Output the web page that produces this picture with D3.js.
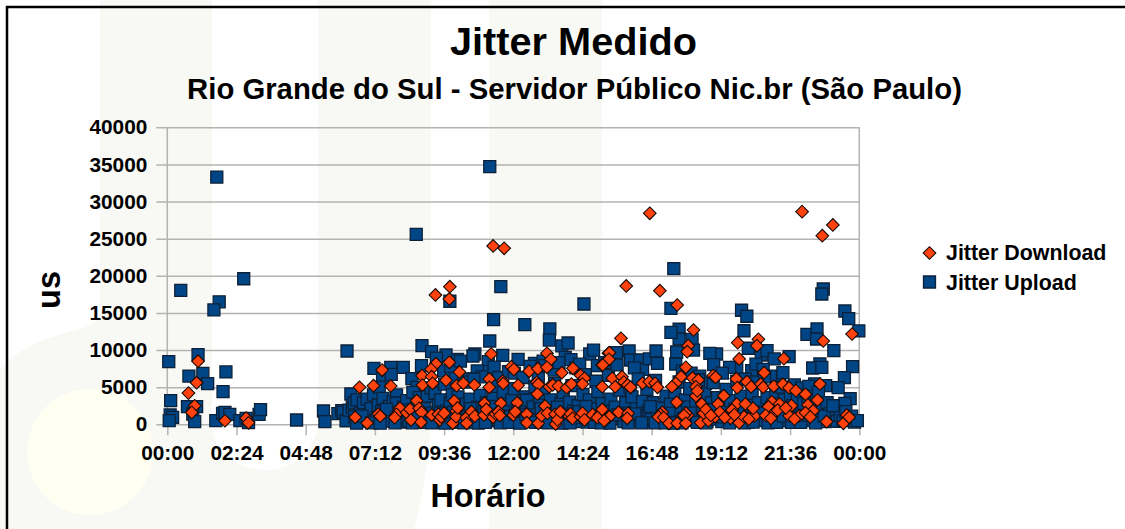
<!DOCTYPE html>
<html>
<head>
<meta charset="utf-8">
<script src="https://cdnjs.cloudflare.com/ajax/libs/d3/7.8.5/d3.min.js"></script>
<style>
  html, body { margin: 0; padding: 0; background: #fff; }
  svg { display: block; }
  text { font-family: "Liberation Sans", Arial, sans-serif; font-weight: bold; fill: #000; }
  .axis path { display: none; }
  .axis line { stroke: #b3b3b3; stroke-width: 1.5; }
  .axis text { font-size: 20.8px; }
</style>
</head>
<body>
<svg id="chart" width="1125" height="529"></svg>
<script>
var chartTitle = "Jitter Medido",
    chartSubtitle = "Rio Grande do Sul - Servidor Público Nic.br (São Paulo)",
    xTitle = "Horário",
    yTitle = "us";

var yTicks = [0, 5000, 10000, 15000, 20000, 25000, 30000, 35000, 40000];
var xTicks = [0, 144, 288, 432, 576, 720, 864, 1008, 1152, 1296, 1440];
var xTickLabels = ["00:00", "02:24", "04:48", "07:12", "09:36", "12:00", "14:24", "16:48", "19:12", "21:36", "00:00"];

// [minutes since midnight, jitter in us]
var jitterUpload = [
  [3,8430],[28,18050],[103,33300],[159,19600],[108,16500],[97,15400],[64,9380],[74,6870],[45,6500],[84,5470],
  [116,4400],[122,7050],[7,3180],[42,2370],[61,2370],[53,1390],[6,1250],[11,940],[4,485],[57,350],
  [101,485],[115,1480],[120,1600],[130,1350],[151,485],[164,810],[169,215],[191,1350],[194,1970],[269,580],
  [325,1790],[328,350],[355,1430],[363,1830],
  // 06:00 - 12:00, upper part
  [374,9870],[430,7540],[465,7680],[491,7680],[448,6200],[466,6730],[509,6140],[519,4980],[530,10590],[550,9780],
  [529,7890],[580,9330],[604,8750],[595,6200],[640,9470],[636,9200],[668,8430],[667,7090],[671,11220],[679,14090],
  [694,18530],[518,25570],[671,34700],[588,16570],[698,9290],[730,8750],[744,13420],[764,8210],[782,8500],[796,12840],
  [795,11350],[867,16200],[821,10550],[834,10950],[879,9470],[887,10000],[828,9020],[560,8900],[575,7200],[590,7800],
  [610,8500],[625,6100],[645,7200],[655,6400],[680,7700],[690,6300],[710,7100],[722,6900],[740,6300],[755,7800],
  [772,6200],[786,7900],[805,7300],[815,8300],[840,8700],[850,7600],[858,8100],[870,6700],[895,7900],[910,8300],
  // low and middle mass, 06:00 - 16:00
  [366,1650],[372,480],[378,1900],[382,4080],[385,2300],[389,2870],[390,1000],[395,3300],[398,420],[402,1500],
  [408,2910],[411,600],[416,3400],[420,1250],[424,2100],[429,3950],[431,320],[436,900],[439,2600],[441,5000],
  [446,1700],[449,3500],[453,500],[458,1200],[462,2400],[465,420],[470,3100],[477,3950],[477,2870],[480,800],
  [484,1650],[488,300],[491,2300],[495,1000],[498,3180],[503,420],[507,1900],[511,4300],[515,750],[519,2750],
  [524,3600],[527,280],[532,1300],[536,2100],[541,3800],[544,640],[549,4900],[553,1550],[557,4180],[560,250],
  [564,2600],[569,3300],[572,900],[577,5400],[581,1800],[585,420],[589,2900],[593,4000],[597,700],[601,2200],
  [605,3700],[609,380],[613,1500],[618,5700],[622,2700],[626,600],[630,3400],[634,1200],[638,6100],[642,300],
  [646,2300],[651,3900],[655,800],[659,1700],[664,2900],[669,450],[673,1100],[678,3500],[682,5100],[686,650],
  [690,2200],[695,1300],[699,4300],[704,350],[708,2700],[713,1000],[717,3300],[722,4800],[726,500],[730,1800],
  [735,2500],[739,750],[744,3700],[748,3270],[752,400],[757,1400],[761,2300],[765,5100],[770,600],[775,2900],
  [779,1200],[783,4200],[788,300],[792,2000],[797,3300],[801,900],[806,5500],[810,1600],[815,450],[819,2700],
  [824,4300],[828,1100],[833,600],[837,3000],[842,5200],[846,1800],[851,350],[855,2500],[860,900],[865,4000],
  [869,1500],[874,300],[878,3300],[883,700],[887,2100],[892,5800],[896,4400],[900,1000],[905,2800],[909,420],
  [914,1700],[918,6600],[923,3400],[927,750],[932,2300],[936,8000],[941,4600],[945,1100],[950,350],[954,2900],
  // 15:30 - 00:00, upper part
  [961,9870],[964,8660],[935,9640],[984,8660],[989,7410],[972,7600],[1003,8800],[1017,9870],[1020,8210],[1054,20960],
  [1048,15620],[1065,12800],[1065,11490],[1048,12390],[1092,11450],[1060,9740],[1058,8120],[1095,10000],[1143,9470],[1129,9560],
  [1137,8030],[1195,15360],[1206,14550],[1200,12600],[1209,10240],[1216,7220],[1185,7680],[1170,7680],[1236,9330],[1248,9910],
  [1263,8800],[1294,9110],[1274,6330],[1281,6950],[1331,12120],[1352,12840],[1351,11490],[1365,18220],[1362,17550],[1410,15260],
  [1418,14220],[1439,12570],[1387,9910],[1426,7760],[1409,6280],[1396,4930],[1358,8120],[1343,7580],[1362,7680],[1370,5200],
  [1347,5430],[1421,3450],[1410,2830],[1072,7200],[1090,6900],[1108,6500],[1155,6900],[1120,5500],[1225,8100],[1240,7400],
  [1255,6500],[1305,5300],[1320,4900],[1335,5100],
  // low and middle mass, 16:00 - 00:00
  [958,1500],[963,5000],[967,3700],[971,500],[976,2100],[980,6100],[985,1000],[989,3100],[994,300],[998,4700],
  [1002,1800],[1007,700],[1011,2900],[1016,5900],[1020,1200],[1024,350],[1029,2200],[1033,1200],[1038,3800],[1042,600],
  [1047,2700],[1051,1500],[1056,4300],[1060,300],[1065,5700],[1069,1900],[1074,800],[1078,3300],[1083,2300],[1087,4800],
  [1091,500],[1096,1300],[1100,3000],[1105,6000],[1109,800],[1114,2100],[1118,4100],[1123,350],[1127,1600],[1132,2900],
  [1136,5600],[1141,700],[1145,3600],[1150,1800],[1154,350],[1159,2400],[1163,4700],[1167,1100],[1172,3200],[1176,450],
  [1181,2000],[1185,5800],[1190,800],[1194,3800],[1199,1400],[1203,6100],[1208,300],[1212,2500],[1217,4200],[1221,1000],
  [1226,5700],[1230,2900],[1235,500],[1239,1700],[1243,6400],[1248,3600],[1252,1100],[1257,300],[1261,2600],[1266,4400],
  [1270,800],[1275,2000],[1279,5000],[1284,3300],[1288,450],[1293,1500],[1297,4000],[1302,2500],[1306,700],[1311,3400],
  [1315,300],[1320,1800],[1324,2800],[1328,1000],[1333,3800],[1337,500],[1342,2300],[1346,1300],[1351,3300],[1355,4300],
  [1360,800],[1364,2100],[1369,350],[1373,2900],[1378,1400],[1382,650],[1388,1700],[1394,400],[1400,1200],[1406,500],
  [1412,1700],[1418,600],[1424,1100],[1430,300],[1436,500],
  // bottom row, where the squares merge into a solid band
  [394,150],[405,1100],[425,200],[443,150],[456,2000],[474,200],[494,1900],[510,200],[522,1500],[538,300],
  [550,200],[568,1500],[578,150],[596,1600],[603,250],[617,200],[631,2100],[647,150],[662,250],[675,2400],
  [693,200],[711,250],[724,1400],[733,150],[746,1300],[766,250],[778,2100],[793,200],[812,2300],[821,150],
  [838,200],[857,1700],[871,2400],[889,250],[903,200],[921,150],[938,1300],[959,200],[973,1400],[987,200],
  [1005,2400],[1015,200],[1036,200],[1053,150],[1071,200],[1088,1500],[1103,250],[1121,200],[1139,2000],[1157,1000],
  [1170,200],[1188,1700],[1201,200],[1219,300],[1233,1500],[1250,200],[1268,250],[1282,1100],[1299,250],[1318,250],
  [1335,1200],[1349,200],[1367,1100],[1385,2500]
];

var jitterDownload = [
  [64,8500],[61,5600],[44,4200],[57,2500],[51,1600],[120,480],[164,850],[169,200],
  [588,18530],[558,17420],[587,16880],[400,4980],[447,7310],[429,5200],[465,5160],[530,6550],[531,5290],[559,8160],
  [549,7410],[550,6410],[552,5520],[587,8350],[608,7050],[580,5930],[602,5200],[616,5520],[639,5290],[674,9470],
  [670,6100],[670,4980],[698,5830],[699,5500],[716,7760],[721,7400],[730,5250],[753,7140],[771,7490],[790,9560],
  [798,8750],[790,7680],[769,5660],[772,5400],[770,4080],[821,6950],[844,7540],[860,6600],[868,6200],[795,5060],
  [802,5300],[814,5160],[831,4930],[841,5430],[864,5430],[905,7990],[918,9560],[905,5060],[597,3140],[660,2830],
  [694,2830],[728,2910],[519,3180],[678,24020],[701,23700],
  // low rows, 06:30 - 15:00
  [391,940],[416,175],[439,1390],[443,1100],[484,2150],[477,1350],[473,900],[498,1560],[505,2020],[524,2150],
  [529,1620],[507,580],[528,270],[550,1250],[564,1350],[567,580],[570,1000],[576,1500],[594,135],[601,1790],
  [601,1020],[604,2200],[622,890],[623,135],[633,1700],[640,1100],[659,1250],[664,2000],[678,940],[683,1400],
  [689,1700],[692,1200],[720,1250],[724,1700],[748,1350],[748,215],[772,135],[779,1160],[786,2460],[791,1500],
  [807,1350],[808,40],[812,600],[818,1700],[836,1120],[839,1400],[843,800],[860,1020],[864,1500],[868,600],
  [885,1300],[900,1350],[911,485],[905,2000],[895,900],
  // 15:00 - 00:00
  [955,18630],[1025,17990],[1061,16070],[944,11580],[1095,12700],[1187,10990],[1230,11450],[1227,10590],[1365,11220],[1425,12160],
  [1084,10590],[1082,9780],[920,9640],[919,8750],[906,7990],[1079,7680],[1190,8800],[1283,8840],[1242,6950],[1358,5430],
  [1069,6410],[1058,5520],[1050,5060],[1093,6240],[1105,5970],[1100,5060],[1100,3810],[1103,4500],[1136,6550],[1141,6330],
  [1184,6140],[1186,4930],[1206,5740],[1215,5060],[1235,5430],[1240,5000],[1262,5120],[1281,5390],[1294,4930],[1308,4530],
  [1328,4040],[1353,3270],[926,6200],[946,6410],[932,5060],[950,5700],[958,5300],[964,4980],[989,5520],[1003,5740],
  [1015,5520],[1020,4980],[1158,3850],[1060,2960],[1112,2730],[1146,2730],[1185,2730],[1203,2730],[1258,3040],[1274,2730],
  [1299,2510],[1333,2600],[1344,1830],[1004,28420],[1321,28640],[1385,26850],[1363,25400],
  [920,1020],[909,485],[939,1620],[959,1480],[957,810],[1030,1620],[1026,1300],[1022,1000],[1033,900],[1044,135],
  [1061,135],[1083,1250],[1079,1500],[1075,1200],[1079,135],[1110,215],[1126,485],[1140,1020],[1150,1620],[1175,1930],
  [1172,810],[1190,215],[1200,1020],[1222,1120],[1219,2150],[1251,2370],[1265,1700],[1294,1160],[1315,1120],[1328,1560],
  [1372,350],[1407,135],[1414,1250],[1419,940],[1116,1500],[1121,2000],[1131,1200],[1160,900],[1180,1300],[1210,700],
  [1245,1200],[1256,800],[1270,1900],[1287,2200],[1305,700],[1338,1000]
];

var svg = d3.select("svg#chart"),
    margin = {top: 127.3, right: 265.7, bottom: 104.7, left: 167.3},
    width = +svg.attr("width") - margin.left - margin.right,
    height = +svg.attr("height") - margin.top - margin.bottom;

// pale watermark behind the chart
svg.append("path")
    .attr("d", "M0,368 C18,348 50,336 77,330 C88,327 95,323 100,317 L100,0 L212,0 L212,425 C212,452 238,470 265,470 C295,470 318,450 318,420 L318,0 L431,0 L431,420 C428,460 424,495 414,529 L0,529 Z")
    .attr("fill", "#f8f9f4");
svg.append("rect").attr("x", 489).attr("y", 0).attr("width", 113).attr("height", 529).attr("fill", "#f8f9f4");
svg.append("circle").attr("cx", 90).attr("cy", 452).attr("r", 63).attr("fill", "#fffff2");

// frame
svg.append("path")
    .attr("d", "M7,529 L7,7 L1125,7")
    .attr("fill", "none")
    .attr("stroke", "#000")
    .attr("stroke-width", 2.5);

var x = d3.scaleLinear().domain([0, 1440]).range([0, width]),
    y = d3.scaleLinear().domain([0, 40000]).range([height, 0]);

var g = svg.append("g")
    .attr("transform", "translate(" + margin.left + "," + margin.top + ")");

g.append("g")
    .attr("class", "axis")
    .call(d3.axisLeft(y).tickValues(yTicks).tickSize(0).tickFormat(""))
    .selectAll("line")
    .attr("x1", -11)
    .attr("x2", width);

g.append("line").attr("x1", 0).attr("x2", 0).attr("y1", 0).attr("y2", height)
    .attr("stroke", "#b3b3b3").attr("stroke-width", 1.5);
g.append("line").attr("x1", width).attr("x2", width).attr("y1", 0).attr("y2", height)
    .attr("stroke", "#b3b3b3").attr("stroke-width", 1.5);

g.append("g")
    .attr("class", "axis")
    .call(d3.axisLeft(y).tickValues(yTicks).tickSize(11).tickPadding(9).tickFormat(function(d) { return d; }))
    .selectAll("line").remove();

g.append("g")
    .attr("class", "axis")
    .attr("transform", "translate(0," + height + ")")
    .call(d3.axisBottom(x).tickValues(xTicks).tickSize(11).tickPadding(10)
        .tickFormat(function(d, i) { return xTickLabels[i]; }));

var square = d3.symbol().type(d3.symbolSquare).size(144)(),
    diamond = d3.symbol().type(d3.symbolSquare).size(80)();

g.selectAll(".up").data(jitterUpload).enter().append("path")
    .attr("class", "up")
    .attr("d", square)
    .attr("transform", function(d) { return "translate(" + x(d[0]) + "," + y(d[1]) + ")"; })
    .attr("fill", "#004586")
    .attr("stroke", "#0c2138")
    .attr("stroke-width", 1.3);

g.selectAll(".down").data(jitterDownload).enter().append("path")
    .attr("class", "down")
    .attr("d", diamond)
    .attr("transform", function(d) { return "translate(" + x(d[0]) + "," + y(d[1]) + ") rotate(45)"; })
    .attr("fill", "#ff420e")
    .attr("stroke", "#1a0a05")
    .attr("stroke-width", 1.1);

// titles
svg.append("text").attr("x", 573.5).attr("y", 55).attr("text-anchor", "middle").style("font-size", "39.7px").text(chartTitle);
svg.append("text").attr("x", 574.5).attr("y", 99).attr("text-anchor", "middle").style("font-size", "29.3px").text(chartSubtitle);
svg.append("text").attr("x", 488).attr("y", 507).attr("text-anchor", "middle").style("font-size", "32.4px").text(xTitle);
svg.append("text").attr("transform", "translate(60,290) rotate(-90)").attr("text-anchor", "middle").style("font-size", "32.4px").text(yTitle);

// legend
var legend = svg.append("g");
legend.append("path").attr("d", diamond)
    .attr("transform", "translate(929.5,253) rotate(45)")
    .attr("fill", "#ff420e").attr("stroke", "#1a0a05").attr("stroke-width", 1.1);
legend.append("path").attr("d", square)
    .attr("transform", "translate(929.5,282)")
    .attr("fill", "#004586").attr("stroke", "#0c2138").attr("stroke-width", 1.3);
legend.append("text").attr("x", 946).attr("y", 260).style("font-size", "21.4px").text("Jitter Download");
legend.append("text").attr("x", 946).attr("y", 290).style("font-size", "21.4px").text("Jitter Upload");
</script>
</body>
</html>
